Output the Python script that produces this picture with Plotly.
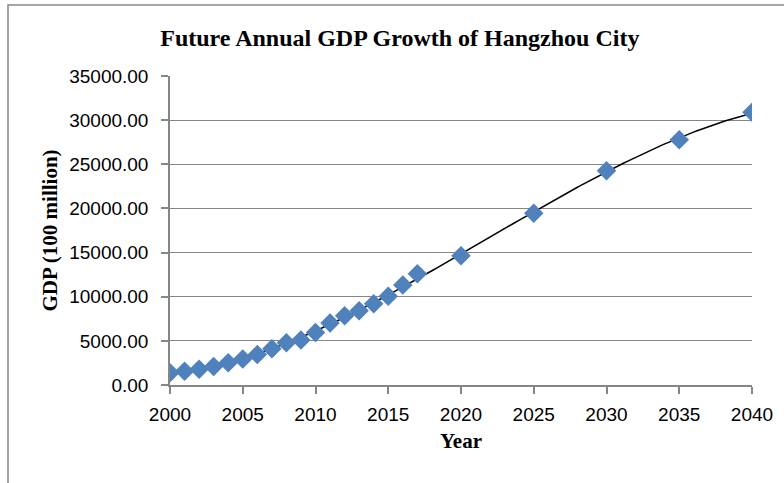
import numpy as np
import plotly.graph_objects as go

years = [2000, 2001, 2002, 2003, 2004, 2005, 2006, 2007, 2008, 2009, 2010,
         2011, 2012, 2013, 2014, 2015, 2016, 2017, 2020, 2025, 2030, 2035, 2040]
gdp = [1382.6, 1568.0, 1781.8, 2092.4, 2515.0, 2942.7, 3441.5, 4104.0, 4781.2,
       5098.7, 5949.2, 7011.8, 7833.8, 8398.6, 9206.2, 10050.2, 11313.7,
       12603.4, 14650.0, 19450.0, 24270.0, 27780.0, 30900.0]

title_text = "Future Annual GDP Growth of Hangzhou City"
x_title = "Year"
y_title = "GDP (100 million)"

# polynomial trendline fitted to the data (as in the spreadsheet chart)
coef = np.polyfit(np.array(years) - 2000, gdp, 3)
xt = np.linspace(2000, 2040, 200)
yt = np.polyval(coef, xt - 2000)

W, H = 784, 483
L, R, T, B = 170, 32, 76, 98
pw, ph = W - L - R, H - T - B

fig = go.Figure()
fig.add_trace(go.Scatter(x=xt, y=yt, mode="lines",
                         line=dict(color="black", width=1.5),
                         hoverinfo="skip", showlegend=False))
fig.add_trace(go.Scatter(x=years, y=gdp, mode="markers",
                         marker=dict(symbol="diamond", size=15, color="#4F81BD",
                                     line=dict(width=0)),
                         showlegend=False))

axis_color = "#868686"
fig.update_layout(
    width=W, height=H,
    margin=dict(l=L, r=R, t=T, b=B),
    paper_bgcolor="white", plot_bgcolor="white",
    title=dict(text="<b>" + title_text + "</b>", x=0.51, xanchor="center",
               y=1 - 38 / H, yanchor="middle",
               font=dict(family="Liberation Serif", size=24, color="black")),
    xaxis=dict(range=[2000, 2040], tickmode="linear", tick0=2000, dtick=5,
               showgrid=False, showline=True, linecolor=axis_color, linewidth=1.5,
               ticks="outside", ticklen=7, tickcolor=axis_color, tickwidth=1.5,
               ticklabelstandoff=4,
               tickfont=dict(family="Liberation Sans", size=19, color="black"),
               title=dict(text="<b>" + x_title + "</b>", standoff=10,
                          font=dict(family="Liberation Serif", size=21, color="black")),
               zeroline=False),
    yaxis=dict(range=[0, 35000], tickmode="linear", tick0=0, dtick=5000,
               tickformat=".2f", showgrid=True, gridcolor=axis_color, gridwidth=1,
               showline=True, linecolor=axis_color, linewidth=1.5,
               ticks="outside", ticklen=7, tickcolor=axis_color, tickwidth=1.5,
               ticklabelstandoff=9,
               tickfont=dict(family="Liberation Sans", size=19, color="black"),
               title=dict(text="<b>" + y_title + "</b>", standoff=6,
                          font=dict(family="Liberation Serif", size=21, color="black")),
               zeroline=False),
)

# outer chart border (right and bottom edges lie beyond the picture)
fig.add_shape(type="rect", xref="paper", yref="paper",
              x0=(8 - L) / pw, x1=(W + 20 - L) / pw,
              y0=-(B + 20) / ph, y1=1 + (T - 5) / ph,
              line=dict(color="#888888", width=1.5), layer="below")

fig.write_html("out.html")
